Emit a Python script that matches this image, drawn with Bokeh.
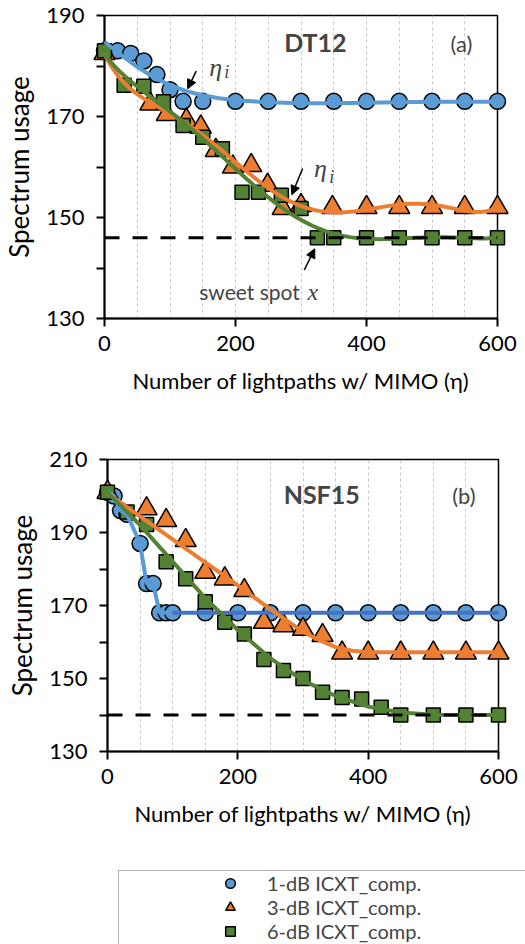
import numpy as np
from bokeh.plotting import figure
from bokeh.models import (FixedTicker, Range1d, Label, Arrow, NormalHead, Span,
                          Legend, LegendItem, BoxAnnotation)
from bokeh.layouts import column
from bokeh.embed import file_html
from bokeh.resources import INLINE

FONT = "Lato"
MATH_FONT = "Liberation Serif"
BLUE = "#5B9BD5"
BLUE_DARK = "#4472C4"
ORANGE = "#ED7D31"
GREEN = "#548235"

# ---------------- data: panel (a) DT12 ----------------
a_blue_x = [0, 20, 40, 60, 80, 100, 120, 150, 200, 250, 300, 350, 400, 450, 500, 550, 600]
a_blue_y = [183, 183, 182.5, 181, 178.3, 175.3, 173, 173, 173, 173, 173, 173, 173, 173, 173, 173, 173]
a_orange_x = [0, 70, 95, 125, 147, 170, 196, 224, 249, 272, 300, 348, 400, 450, 500, 550, 600]
a_orange_y = [182.5, 172.5, 170.4, 169.3, 167.9, 163.3, 160, 160.3, 156.4, 151.8, 152.4, 152, 152, 152, 152, 152, 152]
a_green_x = [0, 30, 60, 90, 120, 150, 180, 210, 235, 270, 300, 325, 350, 400, 450, 500, 550, 600]
a_green_y = [183, 176.2, 176, 172.9, 168.2, 165.9, 163.6, 155, 155, 154.4, 151.8, 146, 146, 146, 146, 146, 146, 146]
a_sweet = 146
# trend curve of the 1-dB series
a_blue_fit_x = [0, 25, 50, 75, 100, 125, 150, 175, 200, 250, 300, 350, 400, 450, 500, 550, 600]
a_blue_fit_y = [184.8, 182.2, 179.8, 177.8, 176.2, 175.0, 174.2, 173.6, 173.2, 172.8, 172.6, 172.6, 172.7, 172.8, 172.9, 172.9, 172.9]

# ---------------- data: panel (b) NSF15 ----------------
b_blue_x = [0, 10, 20, 30, 50, 60, 70, 80, 90, 100, 150, 200, 250, 300, 350, 400, 450, 500, 550, 600]
b_blue_y = [201, 200, 196, 195, 187, 176, 176, 168, 168, 168, 168, 168, 168, 168, 168, 168, 168, 168, 168, 168]
b_orange_x = [0, 60, 90, 120, 150, 180, 210, 240, 270, 300, 330, 360, 400, 450, 500, 550, 600]
b_orange_y = [201, 196.5, 193.3, 187.8, 179.1, 177.3, 174.1, 165.4, 164.5, 163.5, 161.8, 157, 157, 157, 157, 157, 157]
b_green_x = [0, 30, 60, 90, 120, 150, 180, 210, 240, 270, 300, 330, 360, 390, 420, 450, 500, 550, 600]
b_green_y = [201, 195.6, 192.2, 182, 177.3, 171, 165.4, 162.2, 155.2, 152.2, 150, 146.2, 144.8, 144.4, 142.1, 140, 140, 140, 140]
b_sweet = 140
# trend curves of the 3-dB and 6-dB series
b_orange_fit_x = [0, 50, 100, 150, 200, 250, 300, 325, 350, 375, 400, 450, 500, 550, 600]
b_orange_fit_y = [200.7, 194.4, 188.1, 181.8, 175.5, 169.0, 162.8, 160.5, 158.6, 157.6, 157.2, 157.2, 157.2, 157.2, 157.2]
b_green_fit_x = [0, 50, 100, 150, 200, 250, 300, 350, 400, 450, 500, 550, 600]
b_green_fit_y = [201, 192, 182, 172, 163.3, 155.5, 149.5, 145.2, 142.3, 140.7, 140.1, 140, 140]

x_ticks = [0, 200, 400, 600]
x_grid = [50, 100, 150, 200, 250, 300, 350, 400, 450, 500, 550]
a_y_ticks = [130, 150, 170, 190]
a_y_minor = [140, 160, 180]
b_y_ticks = [130, 150, 170, 190, 210]
b_y_minor = [140, 160, 180, 200]

legend_labels = ["1-dB ICXT_comp.", "3-dB ICXT_comp.", "6-dB ICXT_comp."]

LVL = "annotation"   # keeps edge markers from being cut at the frame


def trend(xs, ys, deg=6):
    xs = np.asarray(xs, float) / 600.0
    c = np.polyfit(xs, np.asarray(ys, float), deg)
    xx = np.linspace(0, 1, 241)
    return xx * 600.0, np.polyval(c, xx)


def no_align(p):
    try:
        p.frame_align = False
    except Exception:
        pass


def base_fig(width, height, ymin, ymax, yt, ym, left, right, top, bottom):
    p = figure(width=width, height=height, x_range=Range1d(0, 600), y_range=Range1d(ymin, ymax),
               output_backend="svg", toolbar_location=None,
               min_border_left=left, min_border_right=right, min_border_top=top, min_border_bottom=bottom)
    no_align(p)
    p.xaxis.ticker = FixedTicker(ticks=x_ticks, minor_ticks=[])
    p.yaxis.ticker = FixedTicker(ticks=yt, minor_ticks=ym)
    p.xgrid.ticker = FixedTicker(ticks=x_grid)
    p.xgrid.grid_line_color = "#c8c8c8"
    p.xgrid.grid_line_dash = "3 3"
    p.xgrid.grid_line_width = 1
    p.ygrid.grid_line_color = None
    for ax in (p.xaxis, p.yaxis):
        ax.axis_line_width = 2
        ax.axis_line_color = "black"
        ax.major_tick_line_width = 2
        ax.minor_tick_line_width = 2
        ax.major_tick_out = 8
        ax.major_tick_in = 0
        ax.minor_tick_out = 8
        ax.minor_tick_in = 0
        ax.major_label_text_font = FONT
        ax.major_label_text_font_size = "22px"
        ax.major_label_text_color = "black"
        ax.axis_label_text_font = FONT
        ax.axis_label_text_font_style = "normal"
        ax.axis_label_text_color = "black"
    p.xaxis.axis_label_text_font_size = "22px"
    p.yaxis.axis_label_text_font_size = "26px"
    p.xaxis.major_label_standoff = 9
    p.yaxis.major_label_standoff = 12
    p.xaxis.axis_label_standoff = 13
    p.yaxis.axis_label_standoff = 8
    p.xaxis.axis_label = "Number of lightpaths w/ MIMO (η)"
    p.yaxis.axis_label = "Spectrum usage"
    p.outline_line_color = "black"
    p.outline_line_width = 1.5
    p.background_fill_color = "white"
    p.border_fill_color = "white"
    return p


def add_markers(p, bx, by, ox, oy, gx, gy):
    p.scatter(bx, by, marker="circle", size=16, fill_color=BLUE, line_color="black", line_width=1.5, level=LVL)
    p.scatter(ox, oy, marker="triangle", size=21, fill_color=ORANGE, line_color="black", line_width=1.5, level=LVL)
    p.scatter(gx, gy, marker="square", size=14, fill_color=GREEN, line_color="black", line_width=1.5, level=LVL)


# ---------------- panel (a) ----------------
p1 = base_fig(525, 438, 130, 190, a_y_ticks, a_y_minor, 103, 28, 15, 120)
add_markers(p1, a_blue_x, a_blue_y, a_orange_x, a_orange_y, a_green_x, a_green_y)
p1.line(a_blue_fit_x, a_blue_fit_y, line_color=BLUE, line_width=4, level=LVL)
for xs, ys, col in ((a_orange_x, a_orange_y, ORANGE), (a_green_x, a_green_y, GREEN)):
    tx, ty = trend(xs, ys)
    p1.line(tx, ty, line_color=col, line_width=4, level=LVL)
p1.add_layout(Span(location=a_sweet, dimension="width", line_color="black", line_width=3, line_dash="15 13"))
p1.add_layout(Label(x=322, y=184.7, text="DT12", text_font=FONT, text_font_style="bold", text_font_size="25px",
                    text_align="center", text_baseline="middle"))
p1.add_layout(Label(x=545, y=184.5, text="(a)", text_font=FONT, text_font_size="22px",
                    text_align="center", text_baseline="middle"))
# eta_i annotations
for ex, ey, ix, iy in ((160, 179.8, 183, 178.8), (320, 159.7, 343, 158.0)):
    p1.add_layout(Label(x=ex, y=ey, text="η", text_font=MATH_FONT, text_font_style="italic",
                        text_font_size="26px", text_baseline="alphabetic"))
    p1.add_layout(Label(x=ix, y=iy, text="i", text_font=MATH_FONT, text_font_style="italic",
                        text_font_size="18px", text_baseline="alphabetic"))
p1.add_layout(Label(x=144.7, y=135.3, text="sweet spot", text_font=FONT, text_font_size="21px",
                    text_baseline="alphabetic"))
p1.add_layout(Label(x=310, y=135.3, text="x", text_font=MATH_FONT, text_font_style="italic",
                    text_font_size="24px", text_baseline="alphabetic"))
for xs, ys, xe, ye in ((140, 179, 127, 175.5), (302.5, 159.7, 286, 154.5), (305, 139.6, 321, 143.8)):
    p1.add_layout(Arrow(x_start=xs, y_start=ys, x_end=xe, y_end=ye, line_width=1.5, line_color="black",
                        end=NormalHead(size=9, fill_color="black", line_color="black")))

# ---------------- panel (b) ----------------
p2 = base_fig(525, 428, 130, 210, b_y_ticks, b_y_minor, 107, 27, 21, 115)
add_markers(p2, b_blue_x, b_blue_y, b_orange_x, b_orange_y, b_green_x, b_green_y)
n_drop = b_blue_x.index(100) + 1
p2.line(b_blue_x[:n_drop], b_blue_y[:n_drop], line_color=BLUE, line_width=4, level=LVL)
p2.line(b_blue_x[n_drop - 1:], b_blue_y[n_drop - 1:], line_color=BLUE_DARK, line_width=4, level=LVL)
p2.line(b_orange_fit_x, b_orange_fit_y, line_color=ORANGE, line_width=4, level=LVL)
p2.line(b_green_fit_x, b_green_fit_y, line_color=GREEN, line_width=4, level=LVL)
p2.add_layout(Span(location=b_sweet, dimension="width", line_color="black", line_width=3, line_dash="15 13"))
p2.add_layout(Label(x=328.7, y=200.5, text="NSF15", text_font=FONT, text_font_style="bold", text_font_size="25px",
                    text_align="center", text_baseline="middle"))
p2.add_layout(Label(x=547, y=200.2, text="(b)", text_font=FONT, text_font_size="22px",
                    text_align="center", text_baseline="middle"))

# ---------------- legend ----------------
p3 = figure(width=525, height=78, x_range=Range1d(0, 525), y_range=Range1d(0, 78),
            x_axis_type=None, y_axis_type=None, output_backend="svg", toolbar_location=None,
            min_border=0)
no_align(p3)
p3.grid.visible = False
p3.outline_line_color = None
nan = [float("nan")]
r1 = p3.scatter(nan, nan, marker="circle", size=16, fill_color=BLUE, line_color="black", line_width=1.5)
r2 = p3.scatter(nan, nan, marker="triangle", size=21, fill_color=ORANGE, line_color="black", line_width=1.5)
r3 = p3.scatter(nan, nan, marker="square", size=14, fill_color=GREEN, line_color="black", line_width=1.5)
p3.add_layout(BoxAnnotation(left=118, right=700, bottom=-50, top=74, fill_alpha=0,
                            line_color="black", line_width=1))
leg = Legend(items=[LegendItem(label=legend_labels[0], renderers=[r1]),
                    LegendItem(label=legend_labels[1], renderers=[r2]),
                    LegendItem(label=legend_labels[2], renderers=[r3])],
             location=(217, 1), orientation="vertical", border_line_color=None,
             background_fill_alpha=0, padding=0, margin=0, spacing=0,
             glyph_width=26, glyph_height=24, label_height=24, label_standoff=24,
             label_text_font=FONT, label_text_font_size="20px")
p3.add_layout(leg)

layout = column(p1, p2, p3, spacing=0)
open("out.html", "w").write(file_html(layout, INLINE))
